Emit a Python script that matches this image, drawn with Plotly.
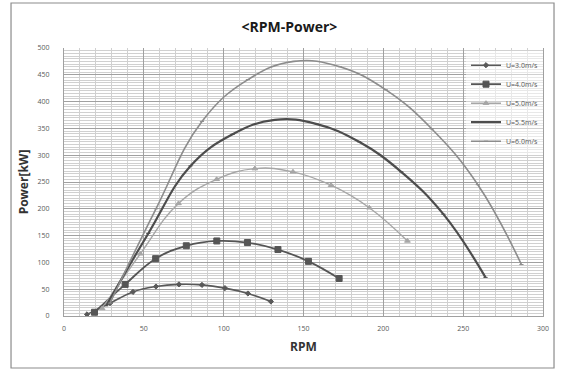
import plotly.graph_objects as go

rpm_30 = [14.4, 28.8, 43.2, 57.6, 72.0, 86.4, 100.8, 115.2, 129.6]
pw_30 = [3, 24, 45, 55, 59, 58, 52, 42, 27]

rpm_40 = [19.1, 38.3, 57.4, 76.6, 95.7, 114.9, 134.0, 153.1, 172.3]
pw_40 = [7, 59, 107, 131, 140, 137, 124, 102, 70]

rpm_50 = [23.9, 47.8, 71.7, 95.6, 119.5, 143.4, 167.3, 191.2, 215.1]
pw_50 = [14, 116, 210, 255, 275, 269, 244, 202, 140]

rpm_55 = [26.4, 52.8, 79.2, 105.6, 132.0, 158.4, 184.8, 211.2, 237.6, 264.0]
pw_55 = [19, 154, 280, 339, 366, 358, 325, 269, 190, 72]

rpm_60 = [28.8, 57.6, 86.4, 115.2, 144.0, 172.8, 201.6, 230.4, 259.2, 286.5]
pw_60 = [24, 200, 363, 441, 475, 465, 422, 349, 245, 96]

series = [
    ("U=3.0m/s", rpm_30, pw_30, "#595959", 1.6, "diamond", 4),
    ("U=4.0m/s", rpm_40, pw_40, "#555555", 1.8, "square", 6),
    ("U=5.0m/s", rpm_50, pw_50, "#a6a6a6", 1.4, "triangle-up", 5),
    ("U=5.5m/s", rpm_55, pw_55, "#4d4d4d", 2.2, "line-ew", 3),
    ("U=6.0m/s", rpm_60, pw_60, "#8c8c8c", 1.6, "line-ew", 3),
]

fig = go.Figure()
for name, xs, ys, col, w, sym, ms in series:
    fig.add_trace(go.Scatter(
        x=xs, y=ys, name=name, mode="lines+markers",
        line=dict(color=col, width=w, shape="spline", smoothing=1.2),
        marker=dict(symbol=sym, size=ms, color=col, line=dict(color=col, width=1)),
    ))

fig.update_layout(
    width=562, height=369,
    margin=dict(l=64, r=19, t=48, b=53),
    paper_bgcolor="white", plot_bgcolor="white",
    title=dict(text="<b>&lt;RPM-Power&gt;</b>", x=0.515, xanchor="center",
               y=0.927, yanchor="middle",
               font=dict(family="Open Sans, Liberation Sans", size=14, color="#1a1a1a")),
    font=dict(family="Open Sans, Liberation Sans", color="#595959"),
    showlegend=True,
    legend=dict(x=1.0, y=0.99, xanchor="right", yanchor="top",
                bgcolor="rgba(255,255,255,0.5)", borderwidth=0,
                font=dict(size=7, color="#595959"),
                itemwidth=30, tracegroupgap=0),
    xaxis=dict(range=[0, 300], dtick=50, tick0=0,
               showgrid=True, gridcolor="#a0a0a0", gridwidth=1,
               minor=dict(dtick=10, tick0=0, showgrid=True, gridcolor="#d0d0d0", gridwidth=1),
               zeroline=False, showline=True, linecolor="#a0a0a0",
               ticks="", ticklabelstandoff=6, tickfont=dict(size=7, color="#595959"),
               title=dict(text="<b>RPM</b>", standoff=10,
                          font=dict(size=12, color="#333333"))),
    yaxis=dict(range=[0, 500], dtick=50, tick0=0,
               showgrid=True, gridcolor="#a0a0a0", gridwidth=1,
               minor=dict(dtick=5, tick0=0, showgrid=True, gridcolor="#d0d0d0", gridwidth=1),
               zeroline=False, showline=True, linecolor="#a0a0a0", mirror=True,
               ticks="", ticklabelstandoff=12, tickfont=dict(size=7, color="#595959"),
               title=dict(text="<b>Power[kW]</b>", standoff=6,
                          font=dict(size=12, color="#333333"))),
)

fig.add_shape(type="rect", xref="paper", yref="paper",
              x0=-0.1106, x1=1.023, y0=-0.194, y1=1.168,
              line=dict(color="#8c8c8c", width=1.2), fillcolor="rgba(0,0,0,0)",
              layer="below")

fig.write_html("out.html")
